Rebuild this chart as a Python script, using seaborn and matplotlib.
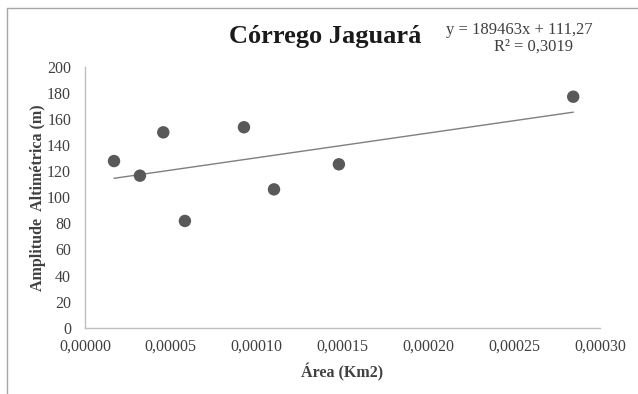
import matplotlib
matplotlib.use("Agg")
import matplotlib.pyplot as plt
import seaborn as sns
import pandas as pd
import numpy as np
from matplotlib.lines import Line2D
from matplotlib.ticker import FuncFormatter, MultipleLocator

# Data
area_km2 = [1.69e-5, 3.2e-5, 4.56e-5, 5.82e-5, 9.26e-5, 1.101e-4, 1.479e-4, 2.844e-4]
amplitude_m = [127.7, 116.5, 149.7, 81.8, 153.6, 106.0, 125.2, 177.0]
slope = 189463
intercept = 111.27
equation_text = "y = 189463x + 111,27"
r2_text = "R² = 0,3019"
title_text = "Córrego Jaguará"
xlabel_text = "Área (Km2)"
ylabel_text = "Amplitude  Altimétrica (m)"

df = pd.DataFrame({"area": area_km2, "amp": amplitude_m})
trend_x = [min(area_km2), max(area_km2)]
trend_df = pd.DataFrame({"area": trend_x, "amp": [slope * v + intercept for v in trend_x]})

sns.set_theme(style="white")
plt.rcParams["font.family"] = ["Liberation Serif", "DejaVu Serif"]

W, H = 638, 394
fig = plt.figure(figsize=(W / 100, H / 100), dpi=100)
ax = fig.add_axes([85 / W, 1 - 327.7 / H, (600 - 85) / W, (327.7 - 66.7) / H])

sns.lineplot(data=trend_df, x="area", y="amp", ax=ax, color="#7f7f7f", linewidth=1.0, zorder=2)
sns.scatterplot(data=df, x="area", y="amp", ax=ax, color="#595959", s=80, edgecolor="none", zorder=3)

ax.set_xlim(0, 0.0003)
ax.set_ylim(0, 200)
ax.xaxis.set_major_locator(MultipleLocator(0.00005))
ax.yaxis.set_major_locator(MultipleLocator(20))
ax.xaxis.set_major_formatter(FuncFormatter(lambda v, p: f"{v:.5f}".replace(".", ",")))
ax.yaxis.set_major_formatter(FuncFormatter(lambda v, p: f"{v:.0f}"))
ax.tick_params(axis="both", length=0, labelsize=11.5, labelcolor="#404040")
ax.tick_params(axis="x", pad=8)
ax.tick_params(axis="y", pad=10)

for s in ["top", "right"]:
    ax.spines[s].set_visible(False)
for s in ["left", "bottom"]:
    ax.spines[s].set_color("#bfbfbf")
    ax.spines[s].set_linewidth(1.0)

ax.set_xlabel(xlabel_text, fontsize=11.5, fontweight="bold", color="#404040", labelpad=6)
ax.set_ylabel(ylabel_text, fontsize=11.5, fontweight="bold", color="#404040", labelpad=1)

fig.text(325 / W, 1 - 37 / H, title_text, fontsize=19, fontweight="bold", color="#1a1a1a",
         ha="center", va="center")
fig.text(519 / W, 1 - 30 / H, equation_text, fontsize=12, color="#404040", ha="center", va="center")
fig.text(533 / W, 1 - 47 / H, r2_text, fontsize=12, color="#404040", ha="center", va="center")

# outer chart border (top and left visible)
fig.add_artist(Line2D([7 / W, 1], [1 - 8 / H, 1 - 8 / H], transform=fig.transFigure,
                      color="#a6a6a6", linewidth=1.0))
fig.add_artist(Line2D([7 / W, 7 / W], [0, 1 - 8 / H], transform=fig.transFigure,
                      color="#a6a6a6", linewidth=1.0))

fig.savefig("out.png", dpi=100)
